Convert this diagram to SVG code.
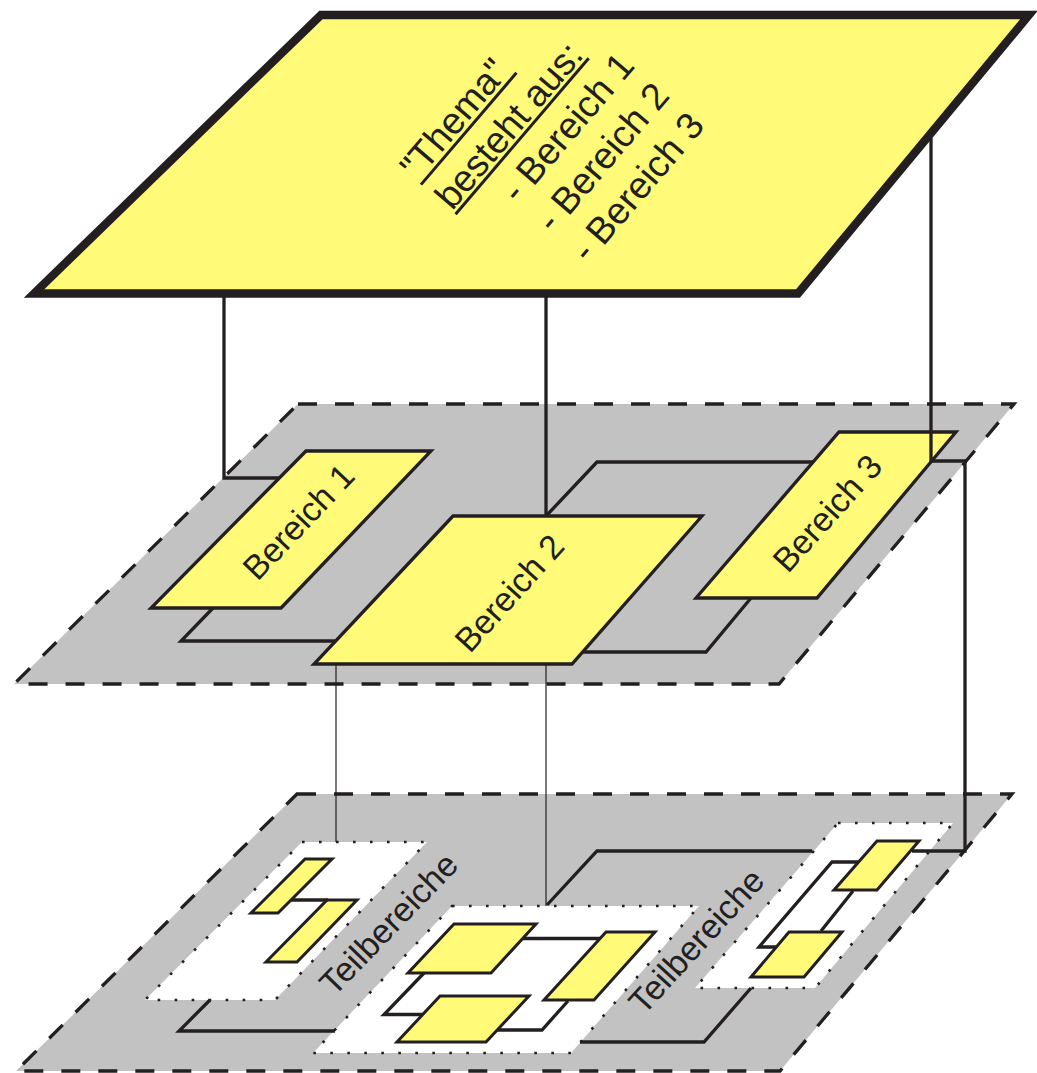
<svg xmlns="http://www.w3.org/2000/svg" width="1037" height="1073" viewBox="0 0 1037 1073">
<style>
.layer{fill:#C2C2C2;stroke:#231F20;stroke-width:3.3;stroke-dasharray:19 18;stroke-linejoin:miter}
.region{fill:#FFFFFF;stroke:#231F20;stroke-width:2.6;stroke-dasharray:2.6 14.4}
.box{fill:#FFFA78;stroke:#231F20;stroke-width:3.3;stroke-linejoin:miter}
.sub{fill:#FFFA78;stroke:#231F20;stroke-width:3;stroke-linejoin:miter}
.top{fill:#FFFA78;stroke:#231F20;stroke-width:8.3;stroke-linejoin:miter}
.c{fill:none;stroke:#231F20;stroke-width:3.3;stroke-linejoin:miter}
.thin{fill:none;stroke:#231F20;stroke-width:1.2}
.ul{stroke:#231F20;stroke-width:3}
text{font-family:"Liberation Sans",Arial,sans-serif;fill:#231F20}
.lbl{font-size:34px;text-anchor:middle}
.tt{font-size:37.5px}
</style>
<rect width="1037" height="1073" fill="#FFFFFF"/>
<g id="layer-middle"><polygon class="layer" points="298,404 1014,404 779,684 14,684"/></g>
<g id="layer-bottom"><polygon class="layer" points="297,794 1012,794 780,1071 16,1071"/></g>
<g id="region-1"><polygon class="region" points="302,842 427,842 275,1000 145,1000"/></g>
<g id="region-2"><polygon class="region" points="452,906 699,906 571,1053 313,1053"/></g>
<g id="region-3"><polygon class="region" points="838,823 953,823 815,988 695,988"/></g>
<g id="label-teil-1"><text class="lbl" transform="translate(397,932) rotate(-46)">Teilbereiche</text></g>
<g id="label-teil-2"><text class="lbl" transform="translate(705,949) rotate(-47.5)">Teilbereiche</text></g>
<g id="bereich-1"><polygon class="box" points="306,451 431,451 281,608 151,608"/><text class="lbl" transform="translate(307,530) rotate(-46.5)">Bereich 1</text></g>
<g id="bereich-2"><polygon class="box" points="453,516 702,516 572,664 314,664"/><text class="lbl" transform="translate(518,601) rotate(-48)">Bereich 2</text></g>
<g id="bereich-3"><polygon class="box" points="839,432 956,432 817,598 696,598"/><text class="lbl" transform="translate(836,521) rotate(-48)">Bereich 3</text></g>
<g id="teil-a"><polygon class="sub" points="305,859 332,859 278,913 251,913"/></g>
<g id="teil-b"><polygon class="sub" points="327,900 357,900 297,962 266,962"/></g>
<g id="teil-c"><polygon class="sub" points="454,924 536,924 491,973 408,973"/></g>
<g id="teil-d"><polygon class="sub" points="606,932 655,932 594,1000 544,1000"/></g>
<g id="teil-e"><polygon class="sub" points="440,996 529,996 486,1042 397,1042"/></g>
<g id="teil-f"><polygon class="sub" points="877,841 919,841 877,890 834,890"/></g>
<g id="teil-g"><polygon class="sub" points="789,932 842,932 804,977 751,977"/></g>
<g id="thema">
<polygon class="top" points="321,15 1029,15 798,293.5 34,293.5"/>
<g transform="rotate(-49.5)">
<text class="tt" x="133" y="435">"Thema"</text>
<line class="ul" x1="133" y1="440" x2="280" y2="440"/>
<text class="tt" x="133" y="481">besteht aus:</text>
<line class="ul" x1="133" y1="485.5" x2="338" y2="485.5"/>
<text class="tt" x="181" y="527">- Bereich 1</text>
<text class="tt" x="181" y="573">- Bereich 2</text>
<text class="tt" x="181" y="619">- Bereich 3</text>
</g>
</g>
<g id="connectors">
<polyline class="c" points="224,297 224,478 279,478"/>
<polyline class="c" points="546,297 546,516"/>
<polyline class="c" points="547,515 597,462 813,462"/>
<polyline class="c" points="213,608 181,641 335,641"/>
<polyline class="c" points="583,652 706,652 751,598"/>
<polyline class="c" points="931,138 931,461 965,461 965,851 912,851"/>
<line class="thin" x1="336" y1="665" x2="336" y2="842"/>
<line class="thin" x1="546" y1="665" x2="546" y2="906"/>
<polyline class="c" points="210,1000 179,1031 335,1031"/>
<polyline class="c" points="547,905 597,851 812,851"/>
<polyline class="c" points="580,1042 704,1042 751,988"/>
<line class="c" x1="291" y1="900" x2="328" y2="900"/>
<line class="c" x1="523" y1="938.5" x2="600" y2="938.5"/>
<polyline class="c" points="424,973 384,1014.5 423,1014.5"/>
<polyline class="c" points="568,1001 542,1030 497,1030"/>
<polyline class="c" points="858,862 832,862 759,947 777,947"/>
<line class="c" x1="853" y1="891" x2="821" y2="931"/>
</g>
</svg>
